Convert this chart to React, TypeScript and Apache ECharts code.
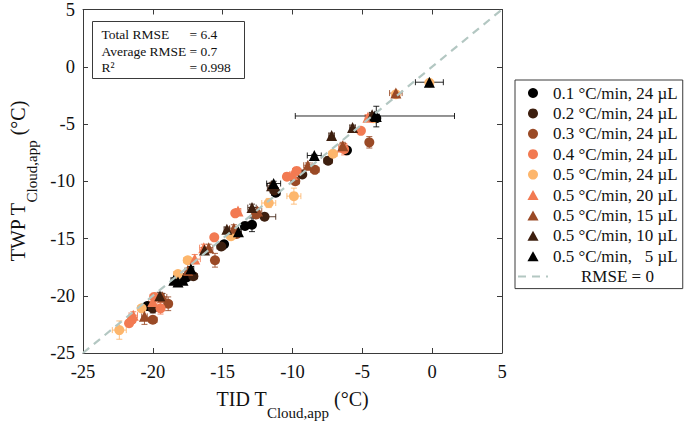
import React, { useEffect, useRef } from "react";
import * as echarts from "echarts";

// ---- Data (TID x, TWP y, x error, y error), °C ----
const rate01_24uL = [
  [-11.2, -11.0, 0.3, 0.3], [-12.9, -13.8, 0.2, 0.6], [-13.4, -13.9, 0.3, 0.3],
  [-14.9, -15.5, 0.2, 0.2], [-17.6, -18.4, 0.3, 0.3], [-20.4, -20.9, 0.2, 0.3],
  [-6.1, -7.3, 0.2, 0.2], [-4.0, -4.5, 0.2, 0.3],
];
const rate02_24uL = [
  [-7.45, -8.2, 0.3, 0.3], [-11.3, -10.8, 0.3, 0.3], [-12.0, -13.1, 0.8, 0.3],
  [-15.1, -15.7, 0.3, 0.3], [-17.1, -18.3, 0.3, 0.3], [-20.0, -21.1, 0.3, 0.4],
  [-9.3, -9.4, 0.2, 0.2],
];
const rate03_24uL = [
  [-4.5, -6.6, 0.2, 0.5], [-8.4, -9.0, 0.3, 0.3], [-9.8, -10.0, 0.3, 0.3],
  [-12.6, -12.9, 0.3, 0.3], [-15.55, -16.9, 0.2, 0.6], [-18.9, -20.7, 0.2, 0.6],
  [-20.0, -22.1, 0.3, 0.3], [-14.0, -14.6, 0.3, 0.3],
];
const rate04_24uL = [
  [-5.1, -5.6, 0.2, 0.2], [-6.3, -7.2, 0.3, 0.5], [-9.7, -9.1, 0.3, 0.3],
  [-10.4, -9.6, 0.2, 0.2], [-14.1, -12.8, 0.2, 0.2], [-15.6, -14.9, 0.2, 0.2],
  [-19.9, -20.1, 0.3, 0.3], [-19.45, -21.1, 0.3, 0.5], [-21.5, -22.1, 0.2, 0.3],
  [-21.7, -22.4, 0.2, 0.3],
];
const rate05_24uL = [
  [-0.2, -1.4, 0.2, 0.2], [-2.6, -2.4, 0.2, 0.2], [-4.2, -4.5, 0.2, 0.3],
  [-7.1, -7.6, 0.3, 0.3], [-9.9, -11.3, 0.5, 0.7], [-11.7, -11.9, 0.5, 0.4],
  [-14.4, -14.8, 0.3, 0.3], [-17.5, -16.9, 0.3, 0.3], [-18.2, -18.1, 0.3, 0.3],
  [-20.8, -21.1, 0.3, 0.3], [-22.4, -23.0, 0.5, 0.8],
];
const rate05_20uL = [
  [-6.4, -7.0, 0.3, 0.3], [-10.0, -9.4, 0.2, 0.2], [-13.9, -12.6, 0.2, 0.2],
  [-16.35, -15.8, 0.3, 0.3], [-17.0, -16.8, 0.4, 0.4], [-20.0, -20.5, 0.3, 0.3],
  [-21.4, -21.7, 0.3, 0.3], [-4.6, -4.4, 0.2, 0.2],
];
const rate05_15uL = [
  [-2.6, -2.3, 0.45, 0.1], [-6.4, -6.9, 0.2, 0.3], [-8.9, -8.6, 0.3, 0.2],
  [-12.5, -12.6, 0.3, 0.3], [-14.2, -14.1, 0.3, 0.3], [-16.0, -15.8, 0.3, 0.3],
  [-17.5, -17.8, 0.2, 0.2], [-19.3, -20.1, 0.3, 0.3], [-20.6, -21.8, 0.2, 0.7],
];
const rate05_10uL = [
  [-5.7, -5.3, 0.2, 0.2], [-7.2, -6.0, 0.2, 0.2], [-11.5, -10.4, 0.3, 0.3],
  [-12.9, -12.3, 0.3, 0.3], [-14.7, -14.2, 0.2, 0.2], [-16.3, -16.0, 0.2, 0.2],
  [-19.5, -20.0, 0.3, 0.3], [-4.3, -4.2, 0.2, 0.2],
];
const rate05_5uL = [
  [-0.2, -1.35, 1.0, 0.1], [-4.1, -4.3, 5.7, 0.1], [-4.0, -4.35, 0.2, 0.9],
  [-8.44, -7.75, 0.5, 0.1], [-11.35, -10.2, 0.5, 0.2], [-13.87, -14.4, 0.2, 0.2],
  [-17.27, -17.65, 0.2, 0.2], [-18.5, -18.65, 0.2, 0.2], [-18.2, -18.8, 0.2, 0.2],
  [-17.84, -18.65, 0.2, 0.2],
];

const groupNames = [
  "0.1 °C/min, 24 µL",
  "0.2 °C/min, 24 µL",
  "0.3 °C/min, 24 µL",
  "0.4 °C/min, 24 µL",
  "0.5 °C/min, 24 µL",
  "0.5 °C/min, 20 µL",
  "0.5 °C/min, 15 µL",
  "0.5 °C/min, 10 µL",
  "0.5 °C/min,   5 µL",
];
const groupData = [
  rate01_24uL, rate02_24uL, rate03_24uL, rate04_24uL, rate05_24uL,
  rate05_20uL, rate05_15uL, rate05_10uL, rate05_5uL,
];
const groupColors = [
  "#000000", "#3d1f0f", "#9a4a26", "#f27a52", "#fdb66c",
  "#f27a52", "#9a4a26", "#3d1f0f", "#000000",
];
const groupSymbols = [
  "circle", "circle", "circle", "circle", "circle",
  "triangle", "triangle", "triangle", "triangle",
];
const identityName = "RMSE = 0";
const identityLine = [[-25, -25], [5, 5]];

const axisMin = -25;
const axisMax = 5;
const axisStep = 5;

const statLabels = ["Total RMSE", "Average RMSE", "R²"];
const statValues = ["= 6.4", "= 0.7", "= 0.998"];

const FONT = "'Liberation Serif', 'Times New Roman', serif";
const AXIS_COLOR = "#3a3a3a";
const TRIANGLE_ICON = "path://M5,0L10,9L0,9Z";
const LINE_COLOR = "#b3c7c2";

export default function App() {
  const ref = useRef<HTMLDivElement>(null);

  useEffect(() => {
    document.body.style.margin = "0";
    if (!ref.current) return;
    const chart = echarts.init(ref.current, undefined, { renderer: "svg" });

    const errSeries = groupData.map((d, i) => ({
      type: "custom",
      name: "err" + i,
      data: d,
      encode: { x: 0, y: 1 },
      z: 2,
      silent: true,
      renderItem: (params: any, api: any) => {
        const x = api.value(0), y = api.value(1), ex = api.value(2), ey = api.value(3);
        const c = api.coord([x, y]);
        const l = api.coord([x - ex, y]);
        const r = api.coord([x + ex, y]);
        const t = api.coord([x, y + ey]);
        const b = api.coord([x, y - ey]);
        const cap = 3;
        const style = { stroke: groupColors[i], lineWidth: 1, opacity: 0.85 };
        return {
          type: "group",
          children: [
            { type: "line", shape: { x1: l[0], y1: c[1], x2: r[0], y2: c[1] }, style },
            { type: "line", shape: { x1: l[0], y1: c[1] - cap, x2: l[0], y2: c[1] + cap }, style },
            { type: "line", shape: { x1: r[0], y1: c[1] - cap, x2: r[0], y2: c[1] + cap }, style },
            { type: "line", shape: { x1: c[0], y1: t[1], x2: c[0], y2: b[1] }, style },
            { type: "line", shape: { x1: c[0] - cap, y1: t[1], x2: c[0] + cap, y2: t[1] }, style },
            { type: "line", shape: { x1: c[0] - cap, y1: b[1], x2: c[0] + cap, y2: b[1] }, style },
          ],
        };
      },
    }));

    const scatterSeries = groupData.map((d, i) => ({
      type: "scatter",
      name: groupNames[i],
      data: d.map((p) => [p[0], p[1]]),
      symbol: groupSymbols[i],
      symbolSize: groupSymbols[i] === "circle" ? 10 : 11,
      itemStyle: { color: groupColors[i], opacity: 1 },
      z: 3,
    }));

    const axisLine = { show: true, onZero: false, lineStyle: { color: AXIS_COLOR, width: 1 } };
    const axisTick = { show: true, inside: true, length: 5, lineStyle: { color: AXIS_COLOR } };
    const labelStyle = { fontFamily: FONT, fontSize: 18.5, color: "#111" };
    const nameRich = {
      a: { fontFamily: FONT, fontSize: 20, color: "#111" },
      b: { fontFamily: FONT, fontSize: 15, color: "#111", padding: [27, 0, 0, 0] },
    };

    const legendData: any[] = groupNames.map((n, i) =>
      groupSymbols[i] === "triangle" ? { name: n, icon: TRIANGLE_ICON } : { name: n, icon: "circle" }
    );
    legendData.push({ name: identityName, itemStyle: { opacity: 0 } });

    chart.setOption({
      animation: false,
      backgroundColor: "#ffffff",
      grid: { left: 66, right: 183, top: 9, bottom: 68, containLabel: false },
      xAxis: [
        {
          type: "value", min: axisMin, max: axisMax, interval: axisStep, position: "bottom",
          axisLine, axisTick, splitLine: { show: false },
          axisLabel: { ...labelStyle, margin: 9 },
          name: "{a|TID T}{b|Cloud,app}{a| (°C)}",
          nameLocation: "middle", nameGap: 25,
          nameTextStyle: { rich: nameRich },
        },
        {
          type: "value", min: axisMin, max: axisMax, interval: axisStep, position: "top",
          axisLine, axisTick, splitLine: { show: false }, axisLabel: { show: false },
        },
      ],
      yAxis: [
        {
          type: "value", min: axisMin, max: axisMax, interval: axisStep, position: "left",
          axisLine, axisTick, splitLine: { show: false },
          axisLabel: { ...labelStyle, margin: 8 },
          name: "{a|TWP T}{b|Cloud,app}{a| (°C)}",
          nameLocation: "middle", nameGap: 44, nameRotate: 90,
          nameTextStyle: { rich: nameRich },
        },
        {
          type: "value", min: axisMin, max: axisMax, interval: axisStep, position: "right",
          axisLine, axisTick, splitLine: { show: false }, axisLabel: { show: false },
        },
      ],
      legend: {
        data: legendData,
        orient: "vertical",
        left: 515,
        top: 80,
        itemWidth: 30,
        itemHeight: 10,
        itemGap: 0.4,
        symbolKeepAspect: true,
        padding: [3, 5, 2, 2],
        borderColor: AXIS_COLOR,
        borderWidth: 1,
        backgroundColor: "#ffffff",
        selectedMode: false,
        textStyle: {
          fontFamily: FONT, fontSize: 17, color: "#111", lineHeight: 20,
          rich: { r: { fontFamily: FONT, fontSize: 17, color: "#111", padding: [0, 0, 0, 28] } },
        },
        formatter: (n: string) => (n === identityName ? `{r|${n}}` : n),
      },
      graphic: [
        {
          type: "group",
          left: 92,
          top: 21,
          children: [
            {
              type: "rect",
              shape: { x: 0, y: 0, width: 152, height: 57 },
              style: { fill: "#ffffff", stroke: AXIS_COLOR, lineWidth: 1 },
            },
            ...statLabels.map((s, i) => ({
              type: "text",
              x: 9,
              y: 13 + i * 16.5,
              style: { text: s, font: `13.5px ${FONT}`, fill: "#111", verticalAlign: "middle" },
            })),
            ...statValues.map((s, i) => ({
              type: "text",
              x: 97,
              y: 13 + i * 16.5,
              style: { text: s, font: `13.5px ${FONT}`, fill: "#111", verticalAlign: "middle" },
            })),
          ],
        },
      ],
      series: [
        ...errSeries,
        ...scatterSeries,
        {
          type: "line",
          name: identityName,
          data: identityLine,
          symbol: "none",
          showSymbol: false,
          z: 4,
          lineStyle: { color: LINE_COLOR, width: 2.2, type: [8, 6] },
          itemStyle: { color: LINE_COLOR },
          silent: true,
        },
      ],
    });

    return () => chart.dispose();
  }, []);

  return <div ref={ref} style={{ width: 685, height: 425 }} />;
}
